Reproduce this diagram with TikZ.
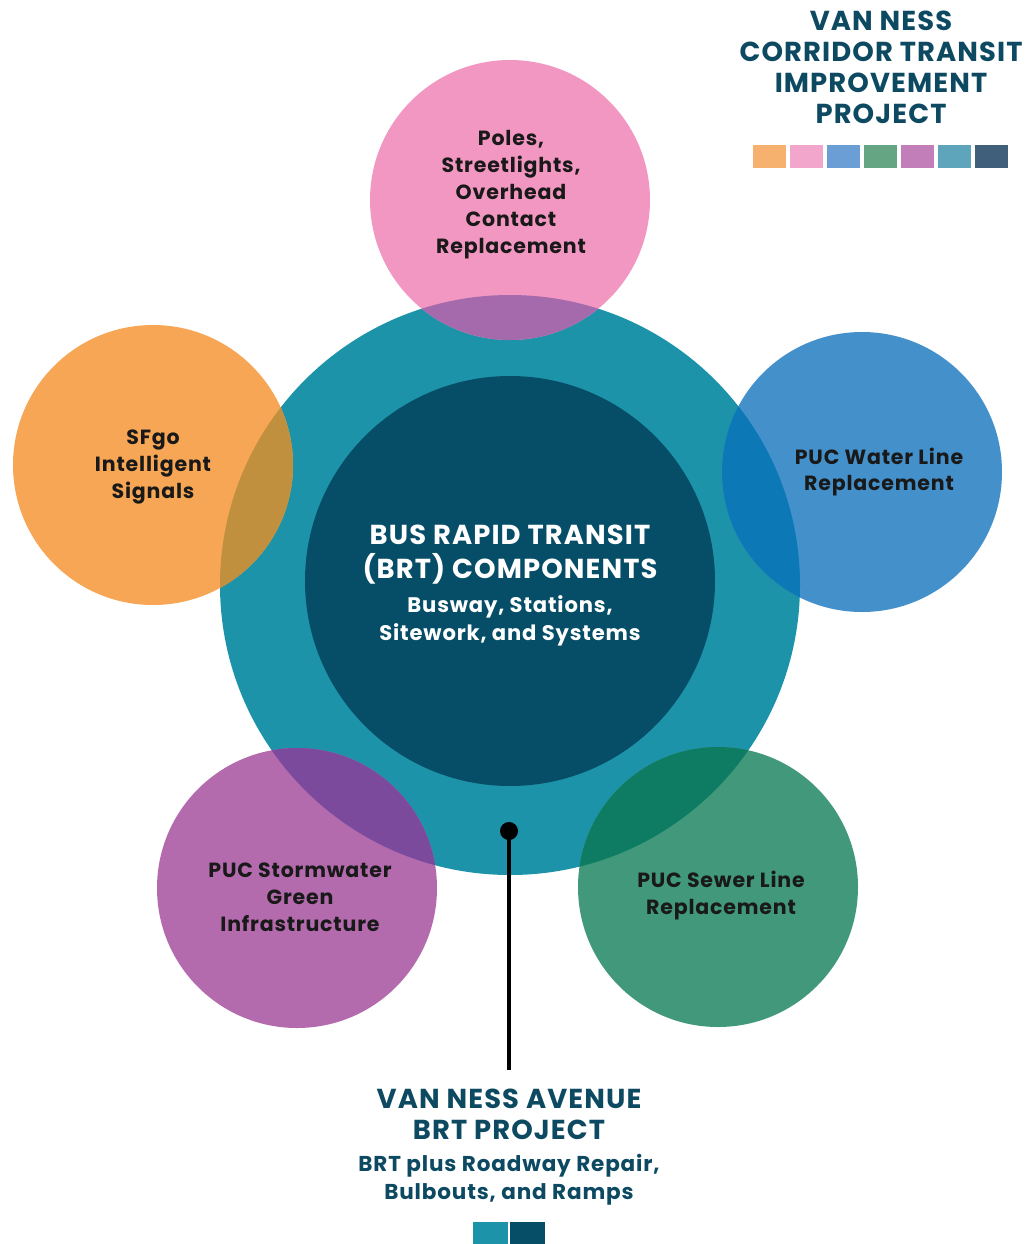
\documentclass[tikz,border=0pt]{standalone}
\usepackage{fontspec}
\setmainfont{Poppins}[LetterSpace=4]
\usetikzlibrary{positioning}
\definecolor{ringteal}{HTML}{1D93A9}
\definecolor{coredark}{HTML}{064E67}
\definecolor{polepink}{HTML}{F297C1}
\definecolor{polepinkov}{HTML}{A46AAB}
\definecolor{sfgoorange}{HTML}{F6A654}
\definecolor{sfgoorangeov}{HTML}{C0903F}
\definecolor{waterblue}{HTML}{4490CB}
\definecolor{waterblueov}{HTML}{0C78B6}
\definecolor{sewergreen}{HTML}{41987A}
\definecolor{sewergreenov}{HTML}{0E7C63}
\definecolor{stormpurple}{HTML}{B36BAE}
\definecolor{stormpurpleov}{HTML}{7C4A9C}
\definecolor{titleblue}{HTML}{0D4A62}
\begin{document}
\begin{tikzpicture}[x=0.025cm, y=-0.025cm,
  lbl/.style={font=\bfseries\fontsize{14.6}{19.2}\selectfont, align=center, text=black!90},
  coretitle/.style={font=\bfseries\fontsize{19.5}{24.2}\selectfont, align=center, text=white},
  coresub/.style={font=\bfseries\fontsize{15}{19.9}\selectfont, align=center, text=white},
  headline/.style={font=\bfseries\fontsize{19.5}{22}\selectfont, align=center, text=titleblue},
  subline/.style={font=\bfseries\fontsize{15.3}{19.9}\selectfont, align=center, text=titleblue}]
  \useasboundingbox (0,0) rectangle (1025,1244);

  \coordinate (brt) at (510,585);
  \coordinate (core) at (510,581);
  \coordinate (poles) at (510,200);
  \coordinate (sfgo) at (153,465);
  \coordinate (water) at (862,472);
  \coordinate (storm) at (297,888);
  \coordinate (sewer) at (718,887);

  \fill[ringteal] (brt) circle (290);
  \fill[coredark] (core) circle (205);
  \fill[polepink] (poles) circle (140);
  \fill[sfgoorange] (sfgo) circle (140);
  \fill[waterblue] (water) circle (140);
  \fill[stormpurple] (storm) circle (140);
  \fill[sewergreen] (sewer) circle (140);

  \begin{scope}
    \clip (brt) circle (290);
    \fill[polepinkov] (poles) circle (140);
    \fill[sfgoorangeov] (sfgo) circle (140);
    \fill[waterblueov] (water) circle (140);
    \fill[stormpurpleov] (storm) circle (140);
    \fill[sewergreenov] (sewer) circle (140);
  \end{scope}

  \node[lbl] (polestxt) at (511,195) {Poles,\\Streetlights,\\Overhead\\Contact\\Replacement};
  \node[lbl] (sfgotxt) at (153,467) {SFgo\\Intelligent\\Signals};
  \node[lbl] (watertxt) at (879,472) {PUC Water Line\\Replacement};
  \node[lbl] (stormtxt) at (300,897) {PUC Stormwater\\Green\\Infrastructure};
  \node[lbl] (sewertxt) at (721,895) {PUC Sewer Line\\Replacement};

  \node[coretitle] (coretxt) at (510,555) {BUS RAPID TRANSIT\\(BRT) COMPONENTS};
  \node[coresub] (coresubtxt) at (510,621) {Busway, Stations,\\Sitework, and Systems};

  \node[headline] (corridor) at (881,67) {VAN NESS\\CORRIDOR TRANSIT\\IMPROVEMENT\\PROJECT};
  \foreach \c [count=\i from 0] in {F6B16E,F2A6CB,6A9ED4,66A584,C17EB9,5EA4BA,3F5F7A}{
    \definecolor{legendc}{HTML}{\c}
    \fill[legendc] (753+37*\i,145) rectangle ++(33,23);
  }

  \node[headline] (avenue) at (509,1114) {VAN NESS AVENUE\\BRT PROJECT};
  \node[subline] (avenuesub) at (509,1180) {BRT plus Roadway Repair,\\Bulbouts, and Ramps};
  \fill[ringteal] (473,1222) rectangle (508,1244);
  \fill[coredark] (510,1222) rectangle (545,1244);

  \coordinate (dot) at (509,831);
  \coordinate (stem) at (509,1070);
  \fill[black] (dot) circle (9);
  \draw[line width=2.9pt] (dot) -- (stem);
\end{tikzpicture}
\end{document}
